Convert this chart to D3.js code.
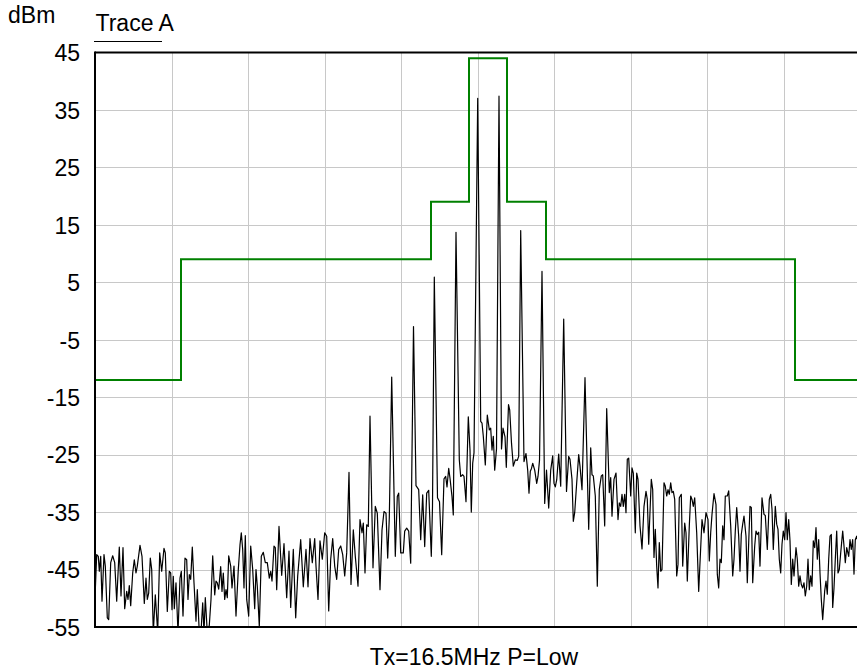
<!DOCTYPE html>
<html>
<head>
<meta charset="utf-8">
<script src="https://cdn.jsdelivr.net/npm/d3@7"></script>
<style>
  html, body { margin: 0; padding: 0; background: #fff; }
  svg { display: block; }
  text { font-family: "Liberation Sans", Arial, Helvetica, sans-serif; fill: #000; }
</style>
</head>
<body>
<svg id="chart" width="857" height="671"></svg>
<script>
// Level axis (dBm) tick values
const levelTicks = [45, 35, 25, 15, 5, -5, -15, -25, -35, -45, -55];

// Sweep: point index 0..765 spread across 10 horizontal divisions
const sweepLast = 765;
const divisionCount = 10;

// Spectral emission mask: breakpoints (sweep points) and the limit level between them
const maskEdges  = [0, 86, 336, 374, 412, 451, 700, 765];
const maskLevels = [-12, 9, 19, 44, 19, 9, -12];

// Trace A: [sweep point, level dBm]
const traceA = [
  [0,-49.9],[1.7,-42.4],[3.3,-42.7],[4.3,-45.3],[5.7,-42.7],[7,-50.5],[9,-42.4],[10.3,-44.4],[12.3,-53.4],[13.7,-53.7],
  [15.7,-43.8],[17.7,-42.6],[19.7,-43.8],[21.7,-50.5],[24.3,-41.1],[26,-49.6],[28,-41.2],[29.7,-51.8],[31.7,-48.8],[33,-50.2],
  [34.3,-47.8],[35.7,-51.3],[37.7,-45.6],[39.3,-43.3],[41,-45.6],[42.3,-44.4],[45,-40.8],[47,-42.7],[49.3,-50.9],[51,-46.5],
  [52.3,-50.2],[53.7,-49.1],[55.3,-43],[56.7,-45],[58.3,-56],[60.3,-49.4],[62.7,-56],[64.7,-42.1],[66.7,-45.3],[69,-41.3],
  [70.3,-42.1],[72.3,-52.3],[74.3,-45.3],[75.7,-45.6],[77,-52],[78.3,-46.2],[79.3,-51.8],[81,-47.3],[83,-56],[85,-46.5],
  [86.3,-45.3],[88,-53.1],[90,-43],[91.7,-43.3],[93,-50.2],[94.3,-45.9],[95.7,-46.7],[97.3,-41.1],[99,-47.3],[101,-54],
  [102.3,-48.5],[104.3,-56],[106,-55.9],[107.7,-50.8],[109,-56],[110.3,-49.9],[112.3,-56],[114.3,-54.7],[116,-50.2],[117.7,-42.6],
  [119.7,-49.4],[121,-47],[122.3,-47.3],[123.7,-48.4],[125.7,-44.5],[127,-48.8],[128.3,-45.6],[129.7,-50.2],[131,-48.5],[132.3,-49.9],
  [133.7,-42.6],[135.7,-44.4],[137,-48.2],[139,-44.4],[141,-53.1],[143.3,-45],[145,-40.7],[146.3,-38.6],[147.7,-41.5],[149,-48.2],
  [150.3,-39.1],[151.7,-50.2],[153.7,-53.1],[155.7,-40.9],[157.7,-45],[159.7,-51.8],[161,-45],[162.3,-47.9],[164.3,-54.9],[166.3,-42.7],
  [168.3,-42],[170.3,-43.8],[172.3,-43.8],[174.3,-46.5],[175.7,-45.3],[177,-47],[179,-40.9],[180.3,-41.2],[181.7,-48.5],[184,-37.5],
  [186.7,-46],[189,-40.5],[191.7,-49.9],[194,-41.8],[195.7,-51.6],[198.3,-41.5],[200.7,-53.4],[202.7,-46.1],[205.7,-39.8],[208.3,-48],
  [211,-41.5],[213,-48],[215,-39.6],[217.3,-43.8],[219.7,-39.6],[221,-44.4],[223,-50.2],[225,-40],[227.3,-43.2],[229.7,-38.6],
  [231.7,-39.2],[233.7,-52.2],[235.7,-43.2],[237.7,-39.6],[239.7,-44.4],[241.7,-46.7],[243.7,-41.5],[245.7,-40.9],[247.7,-42.4],[249.7,-46.1],
  [251.7,-42.1],[254,-28.1],[256,-47.6],[258.3,-38.1],[260.3,-42.7],[263,-47.9],[265,-36.3],[267,-38.6],[268.3,-36.9],[270,-45.6],
  [271.7,-37.2],[273.3,-37.5],[275,-18.3],[278,-44.7],[280.3,-34],[282.3,-35.2],[285,-48.5],[287,-38.1],[289,-34.9],[291,-35.2],
  [292.7,-43],[294.3,-36],[296.7,-11.5],[300.3,-42.7],[302.3,-32.3],[303.7,-31.7],[305.7,-42.1],[308.3,-42.1],[309.7,-38.3],[311.7,-37.8],
  [313.7,-38.3],[315.7,-43.9],[318.5,-2.7],[321,-30.4],[323.7,-31.1],[325.7,-39.8],[327.7,-32],[329.7,-41],[331.7,-31.7],[333.7,-31.2],
  [336.3,-42.7],[337.5,-34],[339.3,5.9],[342.5,-32.5],[344.5,-33.2],[346.7,-42.4],[349,-29.2],[350.7,-28.8],[352,-30.6],[353.7,-27.4],
  [355,-29.1],[357,-32.3],[358.3,-35.5],[361,13.7],[364.3,-25.9],[365.7,-28.8],[367.7,-28.5],[369,-28.8],[371,-33.2],[373.3,-18.4],
  [375,-24.2],[376.3,-35],[377.7,-26.5],[379,-24.7],[382.7,37],[385.7,-19.2],[387,-19.5],[388.3,-21.8],[390.3,-26.8],[392.3,-18.1],
  [394.3,-20.7],[395.7,-20.4],[397,-24.2],[398.3,-21.8],[399.7,-27.7],[401.5,-24],[404,37.4],[406.5,-24],[408,-20.4],[410,-21.9],
  [411.3,-27.2],[413.5,-16.3],[414.7,-17.2],[416.5,-23],[418.3,-27],[420.3,-25.9],[422.3,-26],[423.7,-25.3],[425.7,14],[429,-26.2],
  [431,-24.8],[432.7,-27.7],[434,-31.7],[435.3,-27.9],[436.5,-27.4],[437.7,-26.5],[439.7,-27.7],[441.7,-30],[443,-28.8],[444.5,-26],
  [447,6.9],[449.7,-33.5],[451.5,-27.7],[453.7,-34.3],[455.7,-27.7],[457.7,-25.2],[459,-30],[460.3,-30.6],[461.7,-29.4],[463.7,-24.9],
  [465.7,-30.5],[468.7,-1.4],[471.5,-31.4],[473.7,-25.3],[475,-25.8],[477,-29.3],[478.3,-36.6],[479.7,-35.1],[481.7,-29.9],[483.7,-25],
  [485,-27],[487,-31.1],[490,-11.6],[493.7,-38],[495.7,-23.8],[497,-28.5],[498.3,-28.7],[500.3,-32.2],[502.3,-47.9],[504.3,-31.1],
  [506.3,-28.7],[507.7,-28.5],[509.7,-37.4],[511.7,-17],[514.3,-31.6],[515.7,-29],[517,-35.7],[519,-29.3],[521,-28.2],[523,-36.3],
  [524.3,-33.4],[525.7,-34],[527,-31.9],[528.3,-34],[529.7,-31.9],[531,-35.1],[532.3,-25.8],[533.7,-25.6],[535.7,-32.2],[537,-27.3],
  [538.3,-28.2],[540.3,-38.6],[541.7,-28.2],[543,-29.3],[545,-37.4],[547,-41.4],[549,-34],[551,-31.4],[552.3,-32.8],[553.7,-40.6],
  [556.3,-29.3],[557.7,-31.1],[559,-42.9],[560.3,-38],[561.7,-44.4],[563,-48.2],[564.3,-40.3],[565.7,-45.3],[567,-45],[569,-29.9],
  [570.3,-30.5],[571.7,-32.2],[573,-31.1],[574.3,-31.9],[575.7,-29.9],[577,-31.6],[578.3,-31.4],[579.7,-32.8],[581.7,-46.1],[583,-44.1],
  [584.3,-32.5],[586.3,-31.9],[587.7,-44.4],[589.7,-36.9],[591,-38.6],[592.3,-47],[594.3,-37.4],[595.7,-32.2],[597,-32.8],[598.3,-34],
  [599.7,-32.5],[601.7,-38.6],[603.7,-48.8],[605,-43.8],[607,-36.3],[609,-38.6],[611,-35.1],[613,-36.3],[614.3,-43.5],[615.7,-38.6],
  [617,-35.4],[619,-31.8],[621,-33.7],[622.3,-45.8],[623.7,-48.2],[625,-43.2],[626.3,-43.8],[627.7,-37.4],[629,-39.8],[630.3,-32.2],
  [632.3,-32.2],[633.7,-31.3],[635.7,-37.4],[637.7,-46.1],[639,-43.2],[640.3,-38.3],[641.7,-34.2],[643.7,-39.2],[645,-45.3],[646.3,-38.9],
  [647.7,-37.1],[649,-35.7],[651,-39.2],[652.3,-47.3],[653.7,-40.3],[655,-34],[656.3,-34.2],[657.7,-47.3],[659.7,-40.9],[661,-38.3],
  [662.3,-38.9],[663.7,-38.5],[665,-44.4],[667,-32.5],[669,-35.4],[670.3,-35.6],[672.3,-41.5],[674.3,-32.8],[675.7,-31.9],[677,-34.5],
  [678.3,-41.5],[680.3,-34],[681.7,-37.1],[683,-38],[684.3,-43.2],[685.7,-45.6],[687,-40.6],[688.3,-38.3],[689.7,-39.8],[691,-35.1],
  [692.3,-39.8],[693.7,-36.3],[695,-40],[696.3,-47.6],[697.7,-43.2],[699,-46.1],[701,-41.2],[702.3,-43.2],[703.7,-47.9],[705,-46.1],
  [706.3,-47.6],[707.7,-48.2],[709,-47.3],[710.3,-49.6],[711.7,-47.9],[713,-43.2],[714.3,-48.5],[715.7,-46.1],[717,-47.9],[718.3,-40],
  [719.7,-41.2],[721,-37.7],[722.3,-43.2],[723.7,-39.8],[725,-45.6],[726.3,-50.2],[727.7,-53.7],[729.7,-48.7],[731,-47],[732.3,-49.3],
  [733.7,-43.2],[735,-39.2],[736.3,-38.9],[737.7,-51.6],[739,-48.2],[740.3,-43.2],[741.7,-38.3],[743,-45.6],[744.3,-45],[745.7,-42.1],
  [747.7,-38.3],[749,-40.9],[750.3,-43.8],[751.7,-41.2],[753.7,-42.7],[755,-39.8],[756.3,-41.5],[757.7,-39.8],[759,-45.8],[760.3,-39.8],
  [761.7,-39.2],[764,-41]
];

const unitLabel = "dBm";
const traceLabel = "Trace A";
const footerLabel = "Tx=16.5MHz P=Low";

// ---- layout ----
const plot = { left: 95, top: 52.5, right: 860, bottom: 627 };
const fontSize = 23;

const x = d3.scaleLinear().domain([0, sweepLast]).range([plot.left, plot.right]);
const y = d3.scaleLinear().domain([-55, 45]).range([plot.bottom, plot.top]);

const svg = d3.select("#chart");

svg.append("defs").append("clipPath").attr("id", "plot-clip")
  .append("rect")
  .attr("x", plot.left).attr("y", plot.top)
  .attr("width", plot.right - plot.left).attr("height", plot.bottom - plot.top);

// grid
const divisionPoints = d3.range(1, divisionCount).map(i => i * sweepLast / divisionCount);
const grid = svg.append("g").attr("stroke", "#c8c8c8").attr("stroke-width", 1);
grid.selectAll("line.v").data(divisionPoints).join("line")
  .attr("class", "v")
  .attr("x1", d => Math.round(x(d)) + 0.5).attr("x2", d => Math.round(x(d)) + 0.5)
  .attr("y1", plot.top).attr("y2", plot.bottom);
grid.selectAll("line.h").data(levelTicks.slice(1, -1)).join("line")
  .attr("class", "h")
  .attr("x1", plot.left).attr("x2", plot.right)
  .attr("y1", d => Math.round(y(d)) + 0.5).attr("y2", d => Math.round(y(d)) + 0.5);

// level axis labels (plain hyphen for negatives)
const yAxis = d3.axisLeft(y).tickValues(levelTicks).tickSize(0).tickPadding(15).tickFormat(d => String(d));
const yAxisG = svg.append("g").attr("transform", `translate(${plot.left},0)`).call(yAxis);
yAxisG.select(".domain").remove();
yAxisG.selectAll("text")
  .attr("font-family", '"Liberation Sans", Arial, sans-serif')
  .attr("font-size", fontSize)
  .attr("fill", "#000")
  .attr("dy", "0.36em");

// trace
const traceLine = d3.line().x(d => x(d[0])).y(d => y(d[1]));
svg.append("path")
  .datum(traceA)
  .attr("clip-path", "url(#plot-clip)")
  .attr("fill", "none")
  .attr("stroke", "#000")
  .attr("stroke-width", 1.2)
  .attr("stroke-linejoin", "round")
  .attr("d", traceLine);

// emission mask
const maskPts = maskLevels.map((lv, i) => [maskEdges[i], lv]);
maskPts.push([maskEdges[maskEdges.length - 1], maskLevels[maskLevels.length - 1]]);
const maskLine = d3.line().x(d => x(d[0])).y(d => y(d[1])).curve(d3.curveStepAfter);
svg.append("path")
  .datum(maskPts)
  .attr("clip-path", "url(#plot-clip)")
  .attr("fill", "none")
  .attr("stroke", "#008000")
  .attr("stroke-width", 2)
  .attr("d", maskLine);

// frame: left, top, bottom
const frame = svg.append("g").attr("stroke", "#000").attr("stroke-width", 2).attr("fill", "none");
frame.append("line").attr("x1", plot.left).attr("x2", plot.left).attr("y1", plot.top - 1).attr("y2", plot.bottom + 1);
frame.append("line").attr("x1", plot.left).attr("x2", plot.right).attr("y1", plot.top).attr("y2", plot.top);
frame.append("line").attr("x1", plot.left).attr("x2", plot.right).attr("y1", plot.bottom).attr("y2", plot.bottom);

// titles
svg.append("text").attr("x", 8).attr("y", 23).attr("font-size", fontSize).text(unitLabel);
svg.append("text").attr("x", 95.5).attr("y", 31).attr("font-size", fontSize).text(traceLabel);
svg.append("line").attr("x1", 94).attr("x2", 162).attr("y1", 41.5).attr("y2", 41.5)
  .attr("stroke", "#000").attr("stroke-width", 1);
svg.append("text").attr("x", 474).attr("y", 665).attr("text-anchor", "middle").attr("font-size", fontSize).text(footerLabel);
</script>
</body>
</html>
